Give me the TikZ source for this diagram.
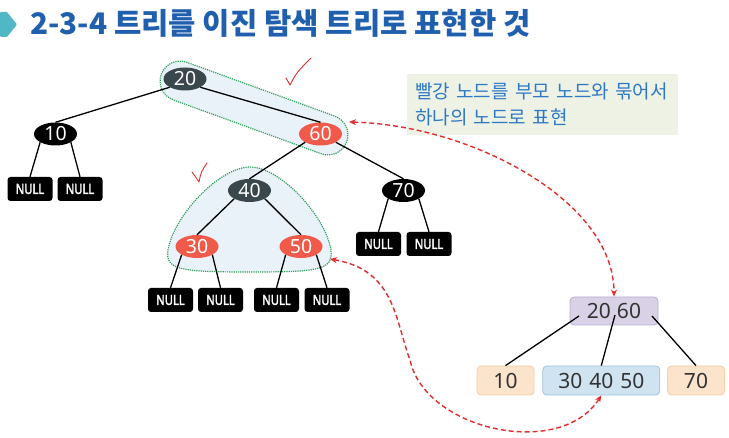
\documentclass[tikz,border=0pt]{standalone}
\usepackage{fontspec}
\setmainfont{Noto Sans}
\newfontfamily\krfont{Noto Sans CJK KR}
\newfontfamily\leaffont[FakeStretch=0.8, FakeBold=2.5]{Noto Sans}
\usetikzlibrary{shapes.geometric,shapes.misc,arrows.meta,calc}
\definecolor{titleblue}{HTML}{1F5FAE}
\definecolor{markteal}{HTML}{4FB8C4}
\definecolor{nodered}{HTML}{EF5A4B}
\definecolor{nodegray}{HTML}{3A474D}
\definecolor{groupfill}{HTML}{E9F2F8}
\definecolor{groupline}{HTML}{2E9E5B}
\definecolor{notefill}{HTML}{EEF2E5}
\definecolor{noteblue}{HTML}{2F78C4}
\definecolor{keytext}{HTML}{333333}
\definecolor{purplefill}{HTML}{D9D2E6}
\definecolor{purpleline}{HTML}{B9AED3}
\definecolor{orangefill}{HTML}{FCE3CC}
\definecolor{orangeline}{HTML}{F5CDA6}
\definecolor{bluefill}{HTML}{CFE3F1}
\definecolor{blueline}{HTML}{9CC3E2}
\definecolor{dashred}{HTML}{E32D2D}
\def\lowgroup{(250,167) .. controls (280,167) and (325,215) .. (331,250) .. controls (333,270) and (320,272) .. (250,272) .. controls (180,272) and (165,270) .. (168,250) .. controls (174,215) and (220,167) .. (250,167) -- cycle}
\def\titlemark{(0,12) -- (7,12) -- (17,24.5) -- (7,37) -- (0,37) -- cycle}

\begin{document}
\begin{tikzpicture}[x=1pt, y=-1pt,
    rb/.style={ellipse, minimum width=43, minimum height=23, inner sep=0pt, text=white, font=\fontsize{19.5}{19.5}\selectfont},
    nullbox/.style={rectangle, rounded corners=3pt, fill=black, minimum width=45, minimum height=24, inner sep=0pt, text=white, font=\leaffont\fontsize{14}{14}\selectfont},
    link/.style={line width=1.3pt},
    groupshade/.style={fill=groupfill, draw=groupline, densely dotted, line width=1.2pt},
    keybox/.style={rectangle, rounded corners=4pt, line width=0.8pt, minimum height=29, inner sep=0pt, text=keytext, font=\fontsize{21}{21}\selectfont},
    redarrow/.style={draw=dashred, line width=1.4pt, dash pattern=on 5pt off 3pt, {Stealth[length=7pt,width=6pt]}-{Stealth[length=7pt,width=6pt]}},
    checkmark/.style={draw=dashred, line width=0.9pt, line cap=round, line join=round}]
  \useasboundingbox (0,0) rectangle (729,438);

  % Title
  \fill[markteal, rounded corners=1pt] \titlemark;
  \node[anchor=base west, inner sep=0pt, text=titleblue, font=\krfont\bfseries\fontsize{29.7}{29.7}\selectfont] (title) at (30,35) {2-3-4 트리를 이진 탐색 트리로 표현한 것};

  % Groups
  \node[rounded rectangle, groupshade, minimum width=204, minimum height=40, rotate=-20] (upgroup) at (254,108) {};
  \draw[groupshade] \lowgroup;

  % Red-black tree
  \node[rb, fill=nodegray] (n20) at (185,79) {20};
  \node[rb, fill=black] (n10) at (55.5,134) {10};
  \node[rb, fill=nodered] (n60) at (320.5,134) {60};
  \node[rb, fill=nodegray] (n40) at (249.5,190.5) {40};
  \node[rb, fill=black] (n70) at (403.5,190.5) {70};
  \node[rb, fill=nodered] (n30) at (197,246.5) {30};
  \node[rb, fill=nodered] (n50) at (301,246.5) {50};

  % NULL leaves
  \node[nullbox] (null1) at (30,189) {NULL};
  \node[nullbox] (null2) at (80,189) {NULL};
  \node[nullbox] (null3) at (378.5,244) {NULL};
  \node[nullbox] (null4) at (429,244) {NULL};
  \node[nullbox] (null5) at (170.5,300) {NULL};
  \node[nullbox] (null6) at (220.5,300) {NULL};
  \node[nullbox] (null7) at (276.5,300) {NULL};
  \node[nullbox] (null8) at (327,300) {NULL};

  % Edges
  \draw[link] (n20.south west) -- (n10.north);
  \draw[link] (n20.south east) -- (n60.north);
  \draw[link] (n10.south west) -- (null1.north);
  \draw[link] (n10.south east) -- (null2.north);
  \draw[link] (n60.south west) -- (n40.north);
  \draw[link] (n60.south east) -- (n70.north);
  \draw[link] (n70.south west) -- (null3.north);
  \draw[link] (n70.south east) -- (null4.north);
  \draw[link] (n40.south west) -- (n30.north);
  \draw[link] (n40.south east) -- (n50.north);
  \draw[link] (n30.south west) -- (null5.north);
  \draw[link] (n30.south east) -- (null6.north);
  \draw[link] (n50.south west) -- (null7.north);
  \draw[link] (n50.south east) -- (null8.north);

  % Checks
  \draw[checkmark] (286,78) .. controls (288,81) .. (290,85) .. controls (297,72) .. (311,58);
  \draw[checkmark] (192,172) .. controls (195,176) .. (199,182) .. controls (201,172) .. (207,163);

  % Note
  \node[anchor=north west, fill=notefill, minimum height=61, text width=255, inner xsep=8pt, align=left, text=noteblue, font=\krfont\fontsize{19}{26}\selectfont] (note) at (407,74) {빨강 노드를 부모 노드와 묶어서\\하나의 노드로 표현};

  % 2-3-4 tree
  \node[keybox, fill=purplefill, draw=purpleline, minimum width=88, minimum height=28] (k2060) at (614,311) {20\hspace{6pt}60};
  \node[keybox, fill=orangefill, draw=orangeline, minimum width=57] (k10) at (505.5,380.5) {10};
  \node[keybox, fill=bluefill, draw=blueline, minimum width=117] (k304050) at (601.3,380.5) {30\hspace{7pt}40\hspace{7pt}50};
  \node[keybox, fill=orangefill, draw=orangeline, minimum width=57] (k70) at (696,380.5) {70};
  \draw[link] ($(k2060.center)+(-35,5)$) -- (k10.north);
  \draw[link] ($(k2060.center)+(1,4)$) -- (k304050.north);
  \draw[link] ($(k2060.center)+(38,5)$) -- (k70.north);

  % Arrows
  \coordinate (tip60) at (349,122);
  \coordinate (tip50) at (330,259);
  \draw[redarrow] (tip60) .. controls (470,125) and (614,200) .. (k2060.north);
  \draw[redarrow] (tip50) .. controls (395,270) and (395,320) .. (410,360) .. controls (425,430) and (560,460) .. (k304050.south);
\end{tikzpicture}
\end{document}
